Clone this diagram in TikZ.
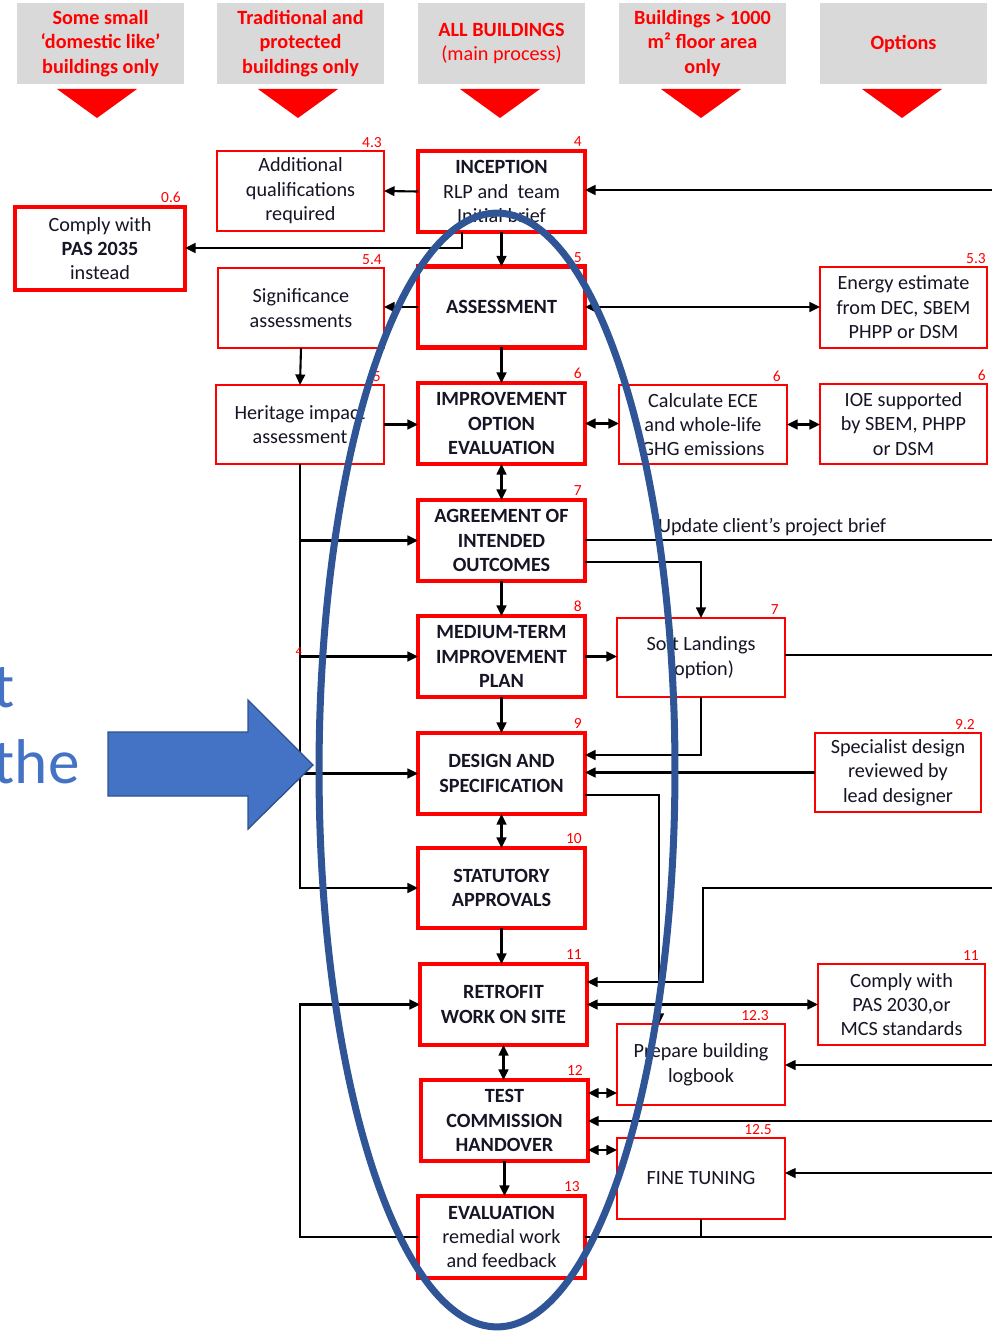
\documentclass[tikz,border=0pt]{standalone}
\usepackage{fontspec}
\setmainfont{Carlito}
\usetikzlibrary{arrows.meta}
\definecolor{hdrgray}{HTML}{D9D9D9}
\definecolor{ellblue}{HTML}{2F5597}
\definecolor{arrblue}{HTML}{4472C4}
\definecolor{arrborder}{HTML}{2F528F}
\definecolor{txtdark}{HTML}{151525}
\newcommand\myfs{\fontsize{11.5}{13.9}\selectfont}
\newcommand\mynumfs{\fontsize{8.8}{9}\selectfont}
\tikzset{
  mainbox/.style={draw=red, line width=2.8pt, fill=white, minimum width=3.34cm, minimum height=1.62cm, align=center, font=\myfs\bfseries, text=txtdark, inner sep=0pt, outer sep=0pt},
  sidebox/.style={draw=red, line width=0.9pt, fill=white, minimum width=3.34cm, minimum height=1.6cm, align=center, font=\myfs, text=txtdark, inner sep=0pt, outer sep=0pt},
  hdrbox/.style={fill=hdrgray, minimum width=3.34cm, minimum height=1.62cm, align=center, font=\myfs\bfseries, text=red, inner sep=0pt},
  hdrtri/.style={fill=red, draw=none},
  numlab/.style={font=\mynumfs, text=red, inner sep=0.5pt, anchor=south east},
  ln/.style={draw=black, line width=1.2pt},
  arr/.style={ln, -{Triangle[length=6pt,width=5.5pt]}},
  darr/.style={ln, {Triangle[length=6pt,width=5.5pt]}-{Triangle[length=6pt,width=5.5pt]}},
  ellipseline/.style={draw=ellblue, line width=4pt},
  bigarrow/.style={fill=arrblue, draw=arrborder, line width=0.8pt},
  bigtext/.style={font=\fontsize{36}{40}\selectfont, text=arrblue, inner sep=0pt},
}
\begin{document}
\begin{tikzpicture}[x=0.02cm,y=-0.02cm]
\useasboundingbox (0,0) rectangle (992,1331);
% header
\node[hdrbox] (h1) at (100.5,43.5) {Some small\\‘domestic like’\\buildings only};
\node[hdrbox] (h2) at (300.5,43.5) {Traditional and\\protected\\buildings only};
\node[hdrbox] (h3) at (501.5,43.5) {ALL BUILDINGS\\\mdseries(main process)};
\node[hdrbox] (h4) at (702.5,43.5) {Buildings > 1000\\m² floor area\\only};
\node[hdrbox] (h5) at (903.5,43.5) {Options};
\foreach \c in {97,298,500,701,902}{
  \fill[hdrtri] (\c-40,89) -- (\c+40,89) -- (\c,118) -- cycle;
}
% main process
\node[mainbox] (inc) at (501.5,191.5) {INCEPTION\\\mdseries RLP and~ team\\\mdseries Initial brief};
\node[mainbox] (asm) at (501.5,307) {ASSESSMENT};
\node[mainbox] (ioe) at (501.5,423.5) {IMPROVEMENT\\OPTION\\EVALUATION};
\node[mainbox] (aio) at (501.5,540.5) {AGREEMENT OF\\INTENDED\\OUTCOMES};
\node[mainbox] (mtp) at (501.5,656.5) {MEDIUM-TERM\\IMPROVEMENT\\PLAN};
\node[mainbox] (des) at (501.5,773.5) {DESIGN AND\\SPECIFICATION};
\node[mainbox, minimum height=1.6cm] (sta) at (501.5,888) {STATUTORY\\APPROVALS};
\node[mainbox] (ret) at (503.5,1004.5) {RETROFIT\\WORK ON SITE};
\node[mainbox] (tch) at (504.5,1120.5) {TEST\\COMMISSION\\HANDOVER};
\node[mainbox, minimum height=1.64cm] (evl) at (501.5,1237) {EVALUATION\\\mdseries remedial work\\\mdseries and feedback};
% side boxes
\node[sidebox] (addq) at (300.5,191) {Additional\\qualifications\\required};
\node[mainbox, minimum width=3.4cm, minimum height=1.66cm, font=\myfs] (pas35) at (100,248.5) {Comply with\\\textbf{PAS 2035}\\instead};
\node[sidebox, minimum width=3.32cm] (sig) at (301,308) {Significance\\assessments};
\node[sidebox, minimum width=3.36cm, minimum height=1.58cm] (her) at (300,424.5) {Heritage impact\\assessment};
\node[sidebox, minimum height=1.62cm] (ene) at (903.5,307.5) {Energy estimate\\from DEC, SBEM\\PHPP or DSM};
\node[sidebox, minimum width=3.36cm, minimum height=1.58cm] (ece) at (703,424.5) {Calculate ECE\\and whole-life\\GHG emissions};
\node[sidebox] (ioes) at (903.5,424) {IOE supported\\by SBEM, PHPP\\or DSM};
\node[sidebox, minimum width=3.36cm, minimum height=1.58cm] (soft) at (701,657.5) {Soft Landings\\(option)};
\node[sidebox, minimum width=3.32cm, minimum height=1.58cm] (spec) at (898,772.5) {Specialist design\\reviewed by\\lead designer};
\node[sidebox, minimum height=1.62cm] (pas30) at (901.5,1004.5) {Comply with\\PAS 2030,or\\MCS standards};
\node[sidebox, minimum width=3.36cm, minimum height=1.62cm] (log) at (701,1064.5) {Prepare building\\logbook};
\node[sidebox, minimum width=3.36cm, minimum height=1.62cm] (fine) at (701,1178.5) {FINE TUNING};
% number labels
\node[numlab] at ([xshift=-0.04cm,yshift=0.06cm]inc.north east) {4};
\node[numlab] at ([xshift=-0.04cm,yshift=0.06cm]asm.north east) {5};
\node[numlab] at ([xshift=-0.04cm,yshift=0.06cm]ioe.north east) {6};
\node[numlab] at ([xshift=-0.04cm,yshift=0.06cm]aio.north east) {7};
\node[numlab] at ([xshift=-0.04cm,yshift=0.06cm]mtp.north east) {8};
\node[numlab] at ([xshift=-0.04cm,yshift=0.06cm]des.north east) {9};
\node[numlab] at ([xshift=-0.04cm,yshift=0.06cm]sta.north east) {10};
\node[numlab] at ([xshift=-0.08cm,yshift=0.06cm]ret.north east) {11};
\node[numlab] at ([xshift=-0.08cm,yshift=0.06cm]tch.north east) {12};
\node[numlab] at ([xshift=-0.08cm,yshift=0.06cm]evl.north east) {13};
\node[numlab] at ([xshift=-0.02cm,yshift=0.04cm]addq.north east) {4.3};
\node[numlab] at ([xshift=-0.06cm,yshift=0.06cm]pas35.north east) {0.6};
\node[numlab] at ([xshift=-0.02cm,yshift=0.04cm]sig.north east) {5.4};
\node[numlab] at ([xshift=-0.04cm,yshift=0.04cm]her.north east) {5};
\node[numlab] at ([xshift=0.0cm,yshift=0.04cm]ene.north east) {5.3};
\node[numlab] at ([xshift=-0.1cm,yshift=0.04cm]ece.north east) {6};
\node[numlab] at ([xshift=0.0cm,yshift=0.04cm]ioes.north east) {6};
\node[numlab] at ([xshift=-0.1cm,yshift=0.04cm]soft.north east) {7};
\node[numlab] at ([xshift=-0.1cm,yshift=0.04cm]spec.north east) {9.2};
\node[numlab] at ([xshift=-0.1cm,yshift=0.04cm]pas30.north east) {11};
\node[numlab] at ([xshift=-0.3cm,yshift=0.04cm]log.north east) {12.3};
\node[numlab] at ([xshift=-0.24cm,yshift=0.04cm]fine.north east) {12.5};
% coordinates
\coordinate (rIn) at (992,190);
\coordinate (k1) at (462,248);
\coordinate (rUp) at (992,540);
\coordinate (k2) at (702,562);
\coordinate (rSo) at (992,655);
\coordinate (k3) at (702,755);
\coordinate (k4) at (659,795);
\coordinate (rSt) at (992,888);
\coordinate (k5) at (703,982);
\coordinate (k6) at (300,1237);
\coordinate (rLg) at (992,1065);
\coordinate (y1) at (600,1093);
\coordinate (rTc) at (992,1121);
\coordinate (y2) at (600,1150);
\coordinate (rFt) at (992,1173);
\coordinate (rEv) at (992,1237);
% connectors
\draw[arr] (rIn) -- (rIn -| inc.east);
\draw[arr] (inc.west) -- (addq.east);
\draw[arr] (k1 |- inc.south) -- (k1) -- (k1 -| pas35.east);
\draw[arr] (inc.south) -- (asm.north);
\draw[arr] (asm.west) -- (asm.west -| sig.east);
\draw[darr] (asm.east) -- (asm.east -| ene.west);
\draw[arr] (sig.south) -- (her.north);
\draw[arr] (asm.south) -- (ioe.north);
\draw[arr] (her.east) -- (her.east -| ioe.west);
\draw[darr] (ioe.east) -- (ioe.east -| ece.west);
\draw[darr] (ece.east) -- (ece.east -| ioes.west);
\draw[darr] (ioe.south) -- (aio.north);
\draw[arr] (her.south) |- (sta.west);
\draw[arr] (her.south |- aio.west) -- (aio.west);
\draw[arr] (her.south |- mtp.west) -- (mtp.west);
\draw[arr] (her.south |- des.west) -- (des.west);
\draw[ln] (aio.east |- rUp) -- (rUp);
\node[font=\myfs, text=txtdark, anchor=south west, inner sep=1pt] (upd) at (656,538) {Update client’s project brief};
\draw[arr] (aio.east |- k2) -| (soft.north);
\draw[arr] (aio.south) -- (mtp.north);
\draw[arr] (mtp.east) -- (mtp.east -| soft.west);
\draw[ln] (soft.east |- rSo) -- (rSo);
\draw[arr] (soft.south) -- (soft.south |- k3) -- (k3 -| des.east);
\draw[arr] (spec.west) -- (spec.west -| des.east);
\draw[arr] (des.east |- k4) -- (k4) -- (k4 |- log.north);
\draw[arr] (mtp.south) -- (des.north);
\draw[darr] (des.south) -- (sta.north);
\draw[arr] (rSt) -| (k5) -- (k5 -| ret.east);
\draw[arr] (sta.south) -- (sta.south |- ret.north);
\draw[darr] (ret.east) -- (ret.east -| pas30.west);
\draw[darr] (ret.south) -- (ret.south |- tch.north);
\draw[arr] (evl.west) -- (k6) |- (ret.west);
\draw[arr] (rLg) -- (rLg -| log.east);
\draw[darr] (y1 -| tch.east) -- (y1 -| log.west);
\draw[arr] (rTc) -- (rTc -| tch.east);
\draw[darr] (y2 -| tch.east) -- (y2 -| fine.west);
\draw[arr] (rFt) -- (rFt -| fine.east);
\draw[ln] (rEv) -- (rEv -| evl.east);
\draw[ln] (fine.south) -- (fine.south |- rEv);
\draw[arr] (tch.south) -- (tch.south |- evl.north);
\node[numlab, font=\fontsize{7}{8}\selectfont] (four) at (303,657) {4};
% ellipse and big arrow
\draw[ellipseline] (497,770) ellipse [x radius=3.56cm, y radius=11.14cm];
\draw[bigarrow] (108,732) -- (248,732) -- (248,700) -- (313,765) -- (248,829) -- (248,796) -- (108,796) -- cycle;
\node[bigtext, anchor=base east] (tt1) at (15,707) {t};
\node[bigtext, anchor=base east] (tt2) at (80,783) {the};
\end{tikzpicture}
\end{document}
